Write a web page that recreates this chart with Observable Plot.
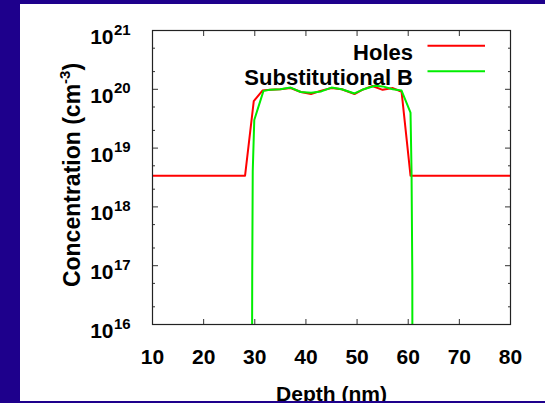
<!DOCTYPE html>
<html><head><meta charset="utf-8">
<script src="https://cdn.jsdelivr.net/npm/d3@7"></script>
<script src="https://cdn.jsdelivr.net/npm/@observablehq/plot@0.6"></script>
<style>
html,body{margin:0;padding:0;background:#1e008c;width:545px;height:403px;overflow:hidden}
#panel{position:absolute;left:20px;top:4px;width:525px;height:397px;background:#fff;overflow:hidden}
</style></head><body><div id="panel"></div>
<script>
// ---- data ----
const holesDepth = [10, 28.1, 29.8, 31.5, 33, 35, 37, 39, 41, 43, 45, 47, 49.5, 51, 53, 55, 57, 58.7, 60.45, 80];
const holesConc  = [3.4e18, 3.4e18, 6.3e19, 9.5e19, 9.8e19, 1.0e20, 1.05e20, 9.0e19, 8.3e19, 9.5e19, 1.05e20, 1.0e20, 8.3e19, 9.8e19, 1.14e20, 9.8e19, 1.05e20, 9.1e19, 3.4e18, 3.4e18];
const boronDepth = [29.45, 29.5, 29.6, 29.9, 31.7, 33, 35, 37, 39, 41, 43, 45, 47, 49.5, 51, 53.5, 55, 57, 58.7, 60.45, 60.65, 60.8, 60.82];
const boronConc  = [1e15, 7e16, 4e18, 3e19, 9.4e19, 9.8e19, 1.0e20, 1.07e20, 9.0e19, 8.7e19, 9.2e19, 1.07e20, 1.0e20, 8.5e19, 9.8e19, 1.15e20, 1.12e20, 1.0e20, 9.5e19, 4e19, 4e18, 7e16, 1e15];
const seriesNames  = ["Holes", "Substitutional B"];
const seriesColors = ["#ff0000", "#00ee00"];
const xTicks = [10, 20, 30, 40, 50, 60, 70, 80];
const yTicks = [1e16, 1e17, 1e18, 1e19, 1e20, 1e21];
const yMinorTicks = [2e16, 5e16, 2e17, 5e17, 2e18, 5e18, 2e19, 5e19, 2e20, 5e20];
const xLabel = "Depth (nm)";
const yLabelParts = ["Concentration (cm", "-3", ")"];

const holes = holesDepth.map((d, i) => ({depth: d, conc: holesConc[i]}));
const boron = boronDepth.map((d, i) => ({depth: d, conc: boronConc[i]}));

const FONT = "'Liberation Sans', Arial, Helvetica, sans-serif";

function legendMark(index, scales, values, dims) {
  const g = d3.create("svg:g");
  const xr = dims.width - dims.marginRight;
  const yt = dims.marginTop;
  seriesNames.forEach((name, i) => {
    g.append("line")
      .attr("x1", xr - 82.5).attr("x2", xr - 25)
      .attr("y1", yt + 15.7 + 25.5 * i).attr("y2", yt + 15.7 + 25.5 * i)
      .attr("stroke", seriesColors[i]).attr("stroke-width", 2);
    g.append("text")
      .attr("x", xr - 97).attr("y", yt + 29.5 + 25.5 * i)
      .attr("text-anchor", "end").attr("font-size", 22).attr("font-weight", "bold")
      .attr("fill", "black").text(name);
  });
  return g.node();
}

function yTitleMark(index, scales, values, dims) {
  const cy = (dims.marginTop + dims.height - dims.marginBottom) / 2 - 2;
  const t = d3.create("svg:text")
    .attr("transform", `translate(60,${cy}) rotate(-90)`)
    .attr("text-anchor", "middle").attr("font-size", 23).attr("font-weight", "bold").attr("fill", "black");
  t.append("tspan").text(yLabelParts[0]);
  t.append("tspan").attr("dy", -10).attr("font-size", 15).text(yLabelParts[1]);
  t.append("tspan").attr("dy", 10).text(yLabelParts[2]);
  return t.node();
}

const tickStyle = {tickFormat: () => "", label: null, stroke: "#333"};

const chart = Plot.plot({
  width: 525, height: 397,
  marginLeft: 132, marginRight: 35, marginTop: 26, marginBottom: 77,
  x: {domain: [10, 80]},
  y: {type: "log", domain: [1e16, 1e21]},
  style: {fontFamily: FONT, fontWeight: "bold", background: "white", color: "black"},
  marks: [
    Plot.axisX(xTicks, {anchor: "bottom", tickSize: -5, ...tickStyle}),
    Plot.axisX(xTicks, {anchor: "top", tickSize: -5, ...tickStyle}),
    Plot.axisY(yTicks, {anchor: "left", tickSize: -6, ...tickStyle}),
    Plot.axisY(yTicks, {anchor: "right", tickSize: -6, ...tickStyle}),
    Plot.axisY(yMinorTicks, {anchor: "left", tickSize: -3, ...tickStyle}),
    Plot.axisY(yMinorTicks, {anchor: "right", tickSize: -3, ...tickStyle}),
    Plot.line(holes, {x: "depth", y: "conc", stroke: seriesColors[0], strokeWidth: 2, clip: true}),
    Plot.line(boron, {x: "depth", y: "conc", stroke: seriesColors[1], strokeWidth: 2, clip: true}),
    Plot.frame({stroke: "#222", strokeWidth: 1.2}),
    Plot.text(xTicks, {x: d => d, frameAnchor: "bottom", dy: 39.5, lineAnchor: "bottom", text: d => String(d), fontSize: 21, fill: "black"}),
    Plot.text(yTicks, {y: d => d, frameAnchor: "left", dx: -39, dy: 13.5, lineAnchor: "bottom", textAnchor: "end", text: () => "10", fontSize: 21, fill: "black"}),
    Plot.text(yTicks, {y: d => d, frameAnchor: "left", dx: -38.5, dy: 4, lineAnchor: "bottom", textAnchor: "start", text: d => String(Math.round(Math.log10(d))), fontSize: 15, fill: "black"}),
    Plot.text([xLabel], {frameAnchor: "bottom", dy: 76, lineAnchor: "bottom", text: d => d, fontSize: 21, fill: "black"}),
    yTitleMark,
    legendMark
  ]
});
document.getElementById("panel").appendChild(chart);
</script></body></html>
